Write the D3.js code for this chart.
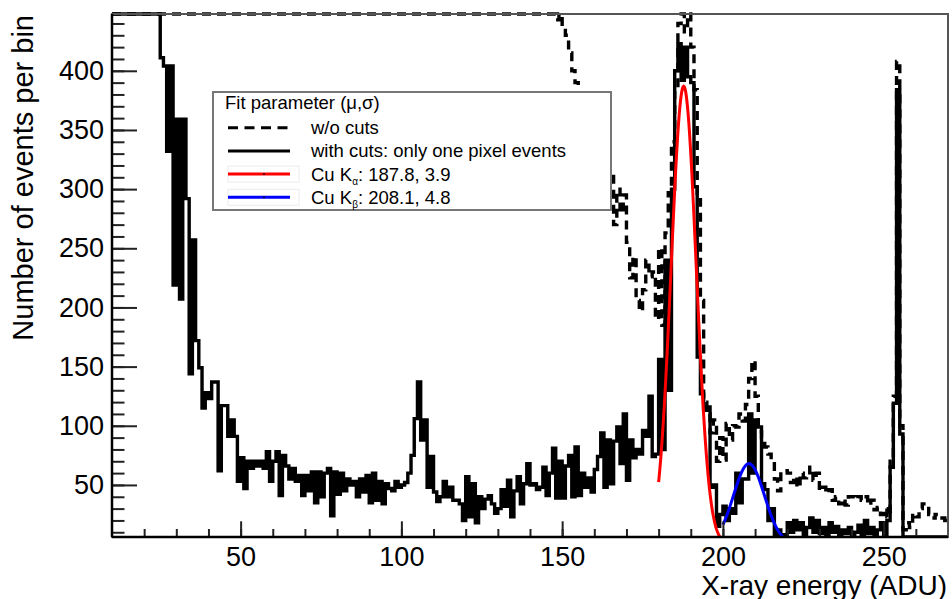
<!DOCTYPE html>
<html>
<head>
<meta charset="utf-8">
<script src="https://cdn.jsdelivr.net/npm/d3@7"></script>
<style>
  body { margin: 0; background: #fff; }
  svg { display: block; }
  text { font-family: "Liberation Sans", Arial, Helvetica, sans-serif; fill: #000; }
</style>
</head>
<body>
<svg id="chart" width="952" height="599"></svg>
<script>

// bins of 1 ADU, low edges 10 .. 269
var binEdges = d3.range(10, 271, 1);

// with cuts: only one pixel events (solid)
var withCuts = [
    2400, 2300, 2200, 2000, 1900, 1700, 1500, 1350, 1200, 1050,   // 10
    900, 800, 700, 600, 520, 411, 404, 332, 404, 219,              // 20
    359, 207, 359, 292, 144, 257, 172, 149, 115, 128,              // 30
    123, 137, 137, 62, 117, 117, 91, 105, 91, 53,                  // 40
    73, 47, 70, 64, 70, 66, 70, 64, 78, 53,                        // 50
    70, 78, 41, 75, 66, 55, 64, 53, 58, 41,                        // 60
    58, 45, 61, 35, 61, 40, 60, 64, 24, 61,                        // 70
    42, 60, 45, 55, 50, 53, 40, 55, 44, 58,                        // 80
    35, 60, 37, 53, 34, 51, 47, 45, 53, 48,                        // 90
    50, 52, 60, 75, 106, 137, 88, 105, 48, 74,                     // 100
    44, 36, 40, 53, 40, 48, 37, 37, 34, 20,                        // 110
    57, 23, 51, 18, 40, 30, 38, 41, 34, 26,                        // 120
    30, 46, 32, 54, 23, 45, 57, 34, 51, 68,                        // 130
    50, 51, 46, 48, 65, 41, 60, 81, 39, 70,                        // 140
    39, 66, 75, 40, 82, 41, 60, 48, 56, 44,                        // 150
    63, 74, 94, 48, 88, 51, 87, 99, 68, 110,                       // 160
    54, 88, 73, 80, 76, 96, 91, 125, 74, 76,                       // 170
    156, 80, 240, 130, 300, 400, 423, 392, 420, 395,               // 180
    390, 302, 158, 127, 113, 116, 48, 50, 15, 25,                  // 190
    32, 20, 30, 26, 60, 35, 55, 55, 110, 60,                       // 200
    105, 99, 51, 46, 20, 30, 8, 12, 6, 8,                          // 210
    18, 10, 20, 12, 18, 8, 14, 22, 10, 20,                         // 220
    9, 14, 8, 18, 10, 15, 8, 12, 9, 14,                            // 230
    8, 10, 16, 8, 20, 9, 14, 7, 12, 18,                            // 240
    7, 20, 65, 119, 384, 93, 0, 0, 0, 0,                           // 250
    0, 0, 0, 0, 0, 0, 0, 0, 0, 0                                   // 260
];

// w/o cuts (dashed)
var withoutCuts = [
    9000, 8800, 8500, 8200, 7900, 7500, 7100, 6700, 6300, 5900,   // 10
    5500, 5100, 4700, 4300, 3900, 3600, 3300, 3000, 2750, 2500,   // 20
    2300, 2100, 1950, 1800, 1700, 1600, 1500, 1420, 1350, 1290,   // 30
    1230, 1180, 1140, 1100, 1060, 1030, 1000, 980, 960, 940,      // 40
    920, 905, 890, 880, 870, 860, 850, 845, 840, 835,             // 50
    830, 825, 820, 815, 810, 805, 800, 795, 790, 785,             // 60
    780, 775, 770, 765, 760, 758, 755, 752, 750, 748,             // 70
    745, 742, 740, 738, 736, 734, 732, 730, 728, 726,             // 80
    724, 722, 720, 718, 716, 714, 712, 710, 708, 706,             // 90
    720, 760, 800, 850, 880, 870, 820, 760, 720, 700,             // 100
    690, 680, 670, 660, 650, 645, 640, 635, 630, 625,             // 110
    620, 615, 610, 605, 600, 595, 590, 585, 580, 575,             // 120
    570, 565, 560, 555, 550, 540, 530, 520, 510, 500,             // 130
    495, 490, 485, 480, 475, 470, 462, 455, 443, 450,             // 140
    436, 430, 415, 400, 390, 378, 368, 360, 350, 344,             // 150
    336, 330, 322, 318, 300, 313, 270, 300, 280, 295,             // 160
    255, 225, 243, 206, 197, 215, 240, 226, 230, 190,             // 170
    250, 185, 263, 297, 340, 383, 440, 470, 433, 470,             // 180
    420, 384, 291, 206, 120, 110, 94, 105, 70, 90,                // 190
    71, 102, 88, 100, 99, 110, 104, 118, 140, 155,                // 200
    125, 95, 90, 82, 76, 70, 55, 45, 62, 62,                      // 210
    60, 52, 57, 48, 60, 56, 58, 65, 54, 60,                       // 220
    45, 48, 43, 46, 37, 40, 34, 38, 33, 40,                       // 230
    40, 38, 40, 37, 40, 33, 37, 29, 31, 25,                       // 240
    30, 23, 70, 125, 408, 100, 12, 18, 14, 26,                    // 250
    23, 30, 34, 34, 25, 22, 25, 22, 22, 20                        // 260
];

// gaussian fits: name, subscript, mean, sigma (legend), amplitude
var fitNames  = ["Cu K", "Cu K"];
var fitSubs   = ["\u03b1", "\u03b2"];
var fitMu     = [187.8, 208.1];
var fitSigma  = [3.9, 4.8];
var fitAmp    = [387, 68];
var fitRanges = [[180, 200], [200, 220]];

var xTicks = [50, 100, 150, 200, 250];
var yTicks = [50, 100, 150, 200, 250, 300, 350, 400];

var legendTitle = "Fit parameter (\u03bc,\u03c3)";
var histLabels  = ["w/o cuts", "with cuts: only one pixel events"];

(function() {

    var svg = d3.select("#chart"),
        left = 112, right = 948, top = 14, bottom = 537,
        yMin = 6, yMax = 448,
        fontFam = "'Liberation Sans', Arial, Helvetica, sans-serif";

    var x = d3.scaleLinear().domain([10, 270]).range([left, right]);
    var y = d3.scaleLinear().domain([yMin, yMax]).range([bottom, top]);

    function clampV(v) { return Math.max(yMin, Math.min(yMax, v)); }

    svg.append("defs").append("clipPath").attr("id", "frameClip")
        .append("rect")
        .attr("x", left).attr("y", top - 2)
        .attr("width", right - left).attr("height", bottom - top + 2);

    var plot = svg.append("g").attr("clip-path", "url(#frameClip)");

    // ROOT style step histogram, out of range bins drawn on the frame edge
    function histPath(vals) {
        var pts = vals.map(function(v, i) { return [binEdges[i], clampV(v)]; });
        pts.push([binEdges[vals.length], clampV(vals[vals.length - 1])]);
        return d3.line()
            .x(function(d) { return x(d[0]); })
            .y(function(d) { return y(d[1]); })
            .curve(d3.curveStepAfter)(pts);
    }

    plot.append("path")
        .attr("d", histPath(withoutCuts))
        .style("fill", "none")
        .style("stroke", "#000")
        .style("stroke-width", 3.4)
        .style("stroke-dasharray", "9,6");

    plot.append("path")
        .attr("d", histPath(withCuts))
        .style("fill", "none")
        .style("stroke", "#000")
        .style("stroke-width", 3.4);

    var fitColors = ["#ff0000", "#0000ff"];

    fitMu.forEach(function(mu, k) {
        var r = fitRanges[k], n = 100, pts = [];
        for (var i = 0; i <= n; i++) {
            var e = r[0] + (r[1] - r[0]) * i / n;
            var z = (e - mu) / fitSigma[k];
            pts.push([e, fitAmp[k] * Math.exp(-0.5 * z * z)]);
        }
        plot.append("path")
            .attr("d", d3.line()
                .x(function(d) { return x(d[0]); })
                .y(function(d) { return y(d[1]); })(pts))
            .style("fill", "none")
            .style("stroke", fitColors[k])
            .style("stroke-width", 3);
    });

    // frame
    svg.append("rect")
        .attr("x", left).attr("y", top)
        .attr("width", right - left).attr("height", bottom - top)
        .style("fill", "none")
        .style("stroke", "#555")
        .style("stroke-width", 2);

    // axes: minor and major ticks in separate groups
    function styleAxis(g) {
        g.selectAll(".domain").remove();
        g.selectAll(".tick line").style("stroke", "#222").style("stroke-width", 2);
        g.selectAll(".tick text")
            .style("font-size", "27px")
            .style("font-family", fontFam)
            .style("fill", "#000");
    }

    var gxMinor = svg.append("g").attr("transform", "translate(0," + bottom + ")")
        .call(d3.axisBottom(x).tickValues(d3.range(20, 270, 10))
            .tickSize(-8).tickFormat(""));
    styleAxis(gxMinor);
    var gx = svg.append("g").attr("transform", "translate(0," + bottom + ")")
        .call(d3.axisBottom(x).tickValues(xTicks)
            .tickSize(-15.7).tickPadding(10).tickFormat(d3.format("d")));
    styleAxis(gx);

    var gyMinor = svg.append("g").attr("transform", "translate(" + left + ",0)")
        .call(d3.axisLeft(y).tickValues(d3.range(10, 448, 10))
            .tickSize(-12.5).tickFormat(""));
    styleAxis(gyMinor);
    var gy = svg.append("g").attr("transform", "translate(" + left + ",0)")
        .call(d3.axisLeft(y).tickValues(yTicks)
            .tickSize(-25).tickPadding(8).tickFormat(d3.format("d")));
    styleAxis(gy);

    svg.append("line")
        .attr("x1", left).attr("x2", right).attr("y1", bottom).attr("y2", bottom)
        .style("stroke", "#000").style("stroke-width", 2.5);
    svg.append("line")
        .attr("x1", left).attr("x2", left).attr("y1", top).attr("y2", bottom)
        .style("stroke", "#000").style("stroke-width", 2.5);

    // axis titles
    svg.append("text")
        .attr("x", right - 1).attr("y", 595)
        .attr("text-anchor", "end")
        .style("font-size", "28px")
        .text("X-ray energy (ADU)");

    svg.append("text")
        .attr("transform", "translate(33,15) rotate(-90)")
        .attr("text-anchor", "end")
        .style("font-size", "29px")
        .text("Number of events per bin");

    // legend
    var leg = svg.append("g");
    leg.append("rect")
        .attr("x", 213).attr("y", 92)
        .attr("width", 398).attr("height", 118)
        .style("fill", "#fff")
        .style("stroke", "#777")
        .style("stroke-width", 2);

    leg.append("text")
        .attr("x", 225).attr("y", 109)
        .style("font-size", "18.5px")
        .text(legendTitle);

    var rowY = function(i) { return 127.7 + i * 23.2; };

    // histogram entries
    histLabels.forEach(function(lab, i) {
        leg.append("line")
            .attr("x1", 228).attr("x2", 290)
            .attr("y1", rowY(i)).attr("y2", rowY(i))
            .style("stroke", "#000")
            .style("stroke-width", 3)
            .style("stroke-dasharray", i === 0 ? "10,6.5" : null);
        leg.append("text")
            .attr("x", 311).attr("y", rowY(i) + 6.5)
            .style("font-size", "18.5px")
            .text(lab);
    });

    // fit entries
    fitNames.forEach(function(name, k) {
        var yy = rowY(k + 2);
        leg.append("rect")
            .attr("x", 228).attr("y", yy - 8)
            .attr("width", 71).attr("height", 16)
            .style("fill", "none")
            .style("stroke", "#ececec")
            .style("stroke-width", 1);
        leg.append("line")
            .attr("x1", 228).attr("x2", 290)
            .attr("y1", yy).attr("y2", yy)
            .style("stroke", fitColors[k])
            .style("stroke-width", 3);
        leg.append("circle")
            .attr("cx", 264).attr("cy", yy).attr("r", 0.9)
            .style("fill", "#000");
        var t = leg.append("text")
            .attr("x", 311).attr("y", yy + 6.5)
            .style("font-size", "18.5px");
        t.append("tspan").text(name);
        t.append("tspan").attr("dy", 4).style("font-size", "10px").text(fitSubs[k]);
        t.append("tspan").attr("dy", -4)
            .text(": " + fitMu[k].toFixed(1) + ", " + fitSigma[k].toFixed(1));
    });

})();
</script>
</body>
</html>
